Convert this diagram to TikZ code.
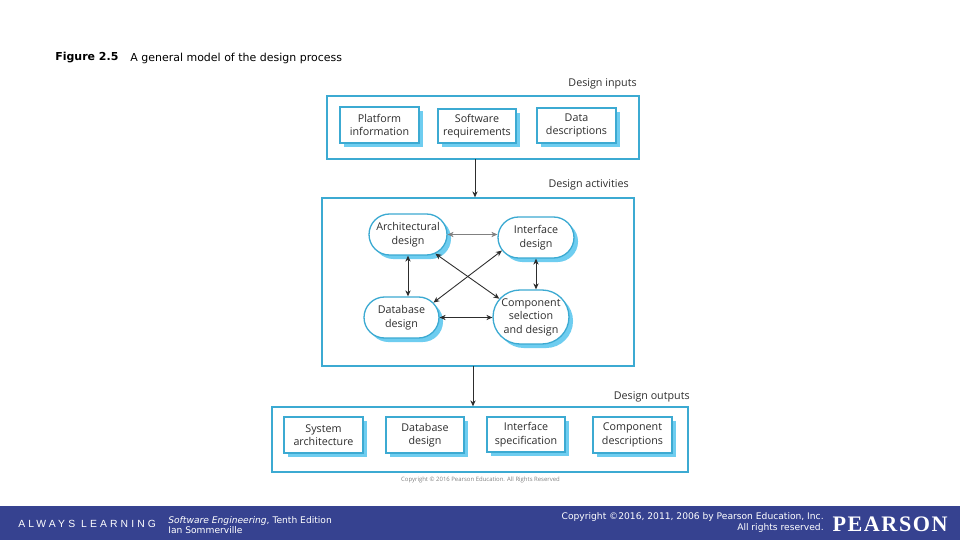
\documentclass[tikz,border=0pt]{standalone}
\usepackage{fontspec}
\setmainfont{Open Sans}
\newfontfamily\headfont{DejaVu Sans}
\newfontfamily\footfont{DejaVu Sans}
\newfontfamily\wordfont[LetterSpace=30]{Liberation Sans}
\newfontfamily\logofont[LetterSpace=7]{Liberation Serif}
\usetikzlibrary{arrows.meta}
\usetikzlibrary{shapes.misc,shadows}
\definecolor{edgeblue}{RGB}{60,170,210}
\definecolor{shadeblue}{RGB}{110,205,240}
\definecolor{bandblue}{RGB}{54,66,144}
\definecolor{inkgray}{RGB}{45,45,45}
\begin{document}
\begin{tikzpicture}[x=0.02cm, y=-0.02cm, >={Stealth[length=3.4pt,width=3pt]},
    panel/.style={draw=edgeblue, line width=0.75pt, fill=white, inner sep=0pt},
    item/.style={panel, align=center, text=inkgray, font=\fontsize{6.1}{7.7}\selectfont,
        drop shadow={shadow xshift=2.3pt, shadow yshift=-2.3pt, fill=shadeblue, opacity=1}},
    task/.style={item, rounded rectangle},
    heading/.style={text=inkgray, font=\fontsize{6.1}{8}\selectfont, inner sep=0pt},
    link/.style={<->, inkgray, line width=0.5pt},
    flow/.style={->, inkgray, line width=0.5pt},
    band/.style={text=white, inner sep=0pt, align=left}]
    \useasboundingbox (0,0) rectangle (960,540);

    % caption
    \node[inner sep=0pt, anchor=west, font=\headfont\bfseries\fontsize{6.25}{7}\selectfont] (figno) at (55,58) {Figure 2.5};
    \node[inner sep=0pt, anchor=west, font=\headfont\fontsize{6.25}{7}\selectfont] (figtitle) at (130,58) {A general model of the design process};

    % inputs
    \node[panel, minimum width=6.24cm, minimum height=1.26cm] (inputs) at (483,127.5) {};
    \node[heading, anchor=east] (inputslabel) at (637,84) {Design inputs};
    \node[item, minimum width=1.58cm, minimum height=0.72cm] (platform) at (379.5,125) {Platform\\information};
    \node[item, minimum width=1.56cm, minimum height=0.68cm] (software) at (477,126) {Software\\requirements};
    \node[item, minimum width=1.58cm, minimum height=0.70cm] (data) at (576.5,125.5) {Data\\descriptions};

    % activities
    \node[panel, minimum width=6.24cm, minimum height=3.36cm] (activities) at (478,282) {};
    \node[heading, anchor=east] (activitieslabel) at (629,185) {Design activities};
    \node[task, minimum width=1.56cm, minimum height=0.82cm] (arch) at (408,234.5) {Architectural\\design};
    \node[task, minimum width=1.52cm, minimum height=0.82cm] (iface) at (536,237.5) {Interface\\design};
    \node[task, minimum width=1.50cm, minimum height=0.82cm] (db) at (401.5,317.5) {Database\\design};
    \node[task, minimum width=1.52cm, minimum height=1.08cm] (comp) at (531,317) {Component\\selection\\and design};

    % outputs
    \node[panel, minimum width=8.32cm, minimum height=1.30cm] (outputs) at (480,439.5) {};
    \node[heading, anchor=east] (outputslabel) at (690,397) {Design outputs};
    \node[item, minimum width=1.58cm, minimum height=0.72cm] (system) at (323.5,435) {System\\architecture};
    \node[item, minimum width=1.56cm, minimum height=0.72cm] (dbdesign) at (425,435) {Database\\design};
    \node[item, minimum width=1.56cm, minimum height=0.70cm] (spec) at (526,434.5) {Interface\\specification};
    \node[item, minimum width=1.58cm, minimum height=0.72cm] (compdesc) at (632.5,435) {Component\\descriptions};

    \path (475,159) coordinate (infoot)
          (473,366) coordinate (actfoot);
    \draw[flow] (infoot) -- (infoot |- activities.north);
    \draw[flow] (actfoot) -- (actfoot |- outputs.north);

    \draw[link, gray, line width=0.3pt] (arch.east) -- (arch.east -| iface.west);
    \draw[link] (db.east) -- (db.east -| comp.west);
    \draw[link] (arch.south) -- (arch.south |- db.north);
    \draw[link] (iface.south) -- (iface.south |- comp.north);
    \draw[link] (arch.-35) -- (comp.150);
    \draw[link] (db.25) -- (iface.201);

    \node[inner sep=0pt, text=gray, font=\fontsize{3.4}{4}\selectfont] (credit) at (480.5,480) {Copyright \textcopyright{} 2016 Pearson Education. All Rights Reserved};

    % footer
    \fill[bandblue] (0,506) rectangle (960,540);
    \node[band, anchor=west, font=\wordfont\fontsize{5.9}{6}\selectfont] (always) at (18,524) {ALWAYS LEARNING};
    \node[band, anchor=west, font=\footfont\fontsize{5.2}{6}\selectfont] (book) at (168,525) {\textit{Software Engineering}, Tenth Edition\\Ian Sommerville};
    \node[band, anchor=east, align=right, font=\footfont\fontsize{5.2}{6}\selectfont] (rights) at (824,522.5) {Copyright \textcopyright{}2016, 2011, 2006 by Pearson Education, Inc.\\All rights reserved.};
    \node[band, anchor=east, font=\logofont\bfseries\fontsize{12.6}{13}\selectfont] (logo) at (948,524) {PEARSON};
\end{tikzpicture}
\end{document}
